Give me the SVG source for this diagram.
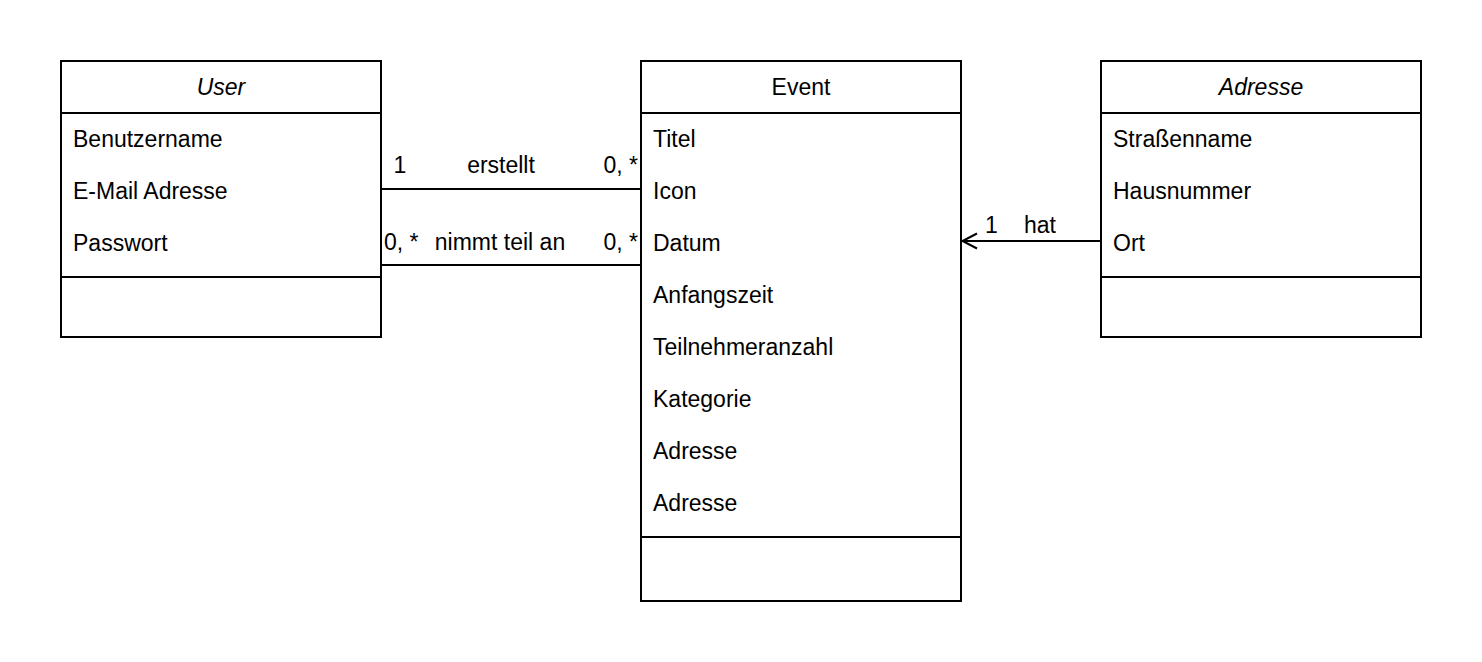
<svg xmlns="http://www.w3.org/2000/svg" width="1482" height="662" viewBox="0 0 1482 662">
<style>
.box{fill:#ffffff;stroke:#000000;stroke-width:2}
.sep{stroke:#000000;stroke-width:2;fill:none}
.t{font-family:"Liberation Sans",Arial,sans-serif;font-size:23px;fill:#000000}
.h{text-anchor:middle}
.i{font-style:italic}
.e{stroke:#000000;stroke-width:2;fill:none}
</style>
<rect width="1482" height="662" fill="#ffffff"/>
<g id="connectors">
<line class="e" x1="381" y1="189" x2="641" y2="189"/>
<line class="e" x1="381" y1="265" x2="641" y2="265"/>
<line class="e" x1="1101" y1="241" x2="963" y2="241"/>
<path class="e" d="M977,233.5 L962.5,241 L977,248.5"/>
<text class="t" x="400" y="173" text-anchor="middle">1</text>
<text class="t" x="501" y="173" text-anchor="middle">erstellt</text>
<text class="t" x="638" y="173" text-anchor="end">0, *</text>
<text class="t" x="384" y="250">0, *</text>
<text class="t" x="500" y="250" text-anchor="middle">nimmt teil an</text>
<text class="t" x="638" y="250" text-anchor="end">0, *</text>
<text class="t" x="985" y="233">1</text>
<text class="t" x="1024" y="233">hat</text>
</g>
<g id="user">
<rect class="box" x="61" y="61" width="320" height="276"/>
<line class="sep" x1="61" y1="113" x2="381" y2="113"/>
<line class="sep" x1="61" y1="277" x2="381" y2="277"/>
<text class="t h i" x="221" y="95">User</text>
<text class="t" x="73" y="147">Benutzername</text>
<text class="t" x="73" y="199">E-Mail Adresse</text>
<text class="t" x="73" y="251">Passwort</text>
</g>
<g id="event">
<rect class="box" x="641" y="61" width="320" height="540"/>
<line class="sep" x1="641" y1="113" x2="961" y2="113"/>
<line class="sep" x1="641" y1="537" x2="961" y2="537"/>
<text class="t h" x="801" y="95">Event</text>
<text class="t" x="653" y="147">Titel</text>
<text class="t" x="653" y="199">Icon</text>
<text class="t" x="653" y="251">Datum</text>
<text class="t" x="653" y="303">Anfangszeit</text>
<text class="t" x="653" y="355">Teilnehmeranzahl</text>
<text class="t" x="653" y="407">Kategorie</text>
<text class="t" x="653" y="459">Adresse</text>
<text class="t" x="653" y="511">Adresse</text>
</g>
<g id="adresse">
<rect class="box" x="1101" y="61" width="320" height="276"/>
<line class="sep" x1="1101" y1="113" x2="1421" y2="113"/>
<line class="sep" x1="1101" y1="277" x2="1421" y2="277"/>
<text class="t h i" x="1261" y="95">Adresse</text>
<text class="t" x="1113" y="147">Straßenname</text>
<text class="t" x="1113" y="199">Hausnummer</text>
<text class="t" x="1113" y="251">Ort</text>
</g>
</svg>
